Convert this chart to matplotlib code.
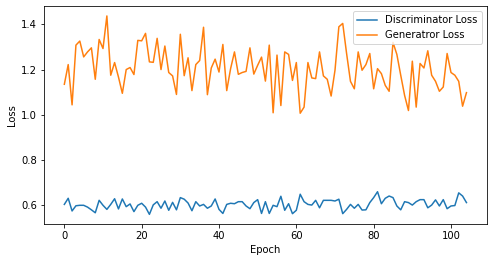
import matplotlib
matplotlib.use("Agg")
import matplotlib.pyplot as plt

# values, one per epoch (0..104)
d_loss = [
    0.604, 0.631, 0.575, 0.598, 0.600, 0.600, 0.592, 0.580, 0.567, 0.622,
    0.600, 0.582, 0.604, 0.629, 0.584, 0.628, 0.594, 0.606, 0.572, 0.600,
    0.609, 0.592, 0.560, 0.602, 0.616, 0.587, 0.619, 0.578, 0.613, 0.580,
    0.634, 0.627, 0.610, 0.576, 0.616, 0.597, 0.604, 0.587, 0.597, 0.628,
    0.582, 0.564, 0.604, 0.609, 0.607, 0.616, 0.616, 0.597, 0.585, 0.612,
    0.625, 0.564, 0.616, 0.564, 0.600, 0.594, 0.640, 0.578, 0.607, 0.563,
    0.578, 0.649, 0.616, 0.604, 0.601, 0.622, 0.589, 0.622, 0.622, 0.622,
    0.619, 0.627, 0.563, 0.582, 0.604, 0.587, 0.604, 0.579, 0.580, 0.612,
    0.634, 0.660, 0.607, 0.631, 0.641, 0.634, 0.597, 0.580, 0.616, 0.612,
    0.601, 0.616, 0.625, 0.625, 0.589, 0.601, 0.624, 0.597, 0.625, 0.585,
    0.597, 0.599, 0.655, 0.641, 0.612,
]
g_loss = [
    1.135, 1.222, 1.044, 1.308, 1.326, 1.256, 1.278, 1.296, 1.157, 1.333,
    1.293, 1.437, 1.175, 1.231, 1.167, 1.095, 1.200, 1.209, 1.178, 1.329,
    1.327, 1.360, 1.234, 1.232, 1.338, 1.200, 1.304, 1.187, 1.172, 1.090,
    1.356, 1.173, 1.252, 1.107, 1.222, 1.240, 1.387, 1.089, 1.207, 1.246,
    1.189, 1.311, 1.107, 1.204, 1.278, 1.179, 1.187, 1.192, 1.296, 1.180,
    1.219, 1.255, 1.149, 1.308, 1.009, 1.264, 1.041, 1.278, 1.267, 1.152,
    1.231, 1.007, 1.034, 1.231, 1.163, 1.160, 1.278, 1.172, 1.157, 1.083,
    1.197, 1.389, 1.404, 1.271, 1.148, 1.115, 1.278, 1.197, 1.222, 1.271,
    1.115, 1.204, 1.182, 1.130, 1.104, 1.320, 1.267, 1.175, 1.086, 1.019,
    1.237, 1.034, 1.227, 1.207, 1.283, 1.175, 1.148, 1.104, 1.123, 1.271,
    1.187, 1.175, 1.148, 1.038, 1.098,
]
epochs = list(range(len(d_loss)))

fig = plt.figure(figsize=(497 / 72, 262 / 72), dpi=72)
ax = fig.add_axes([0.089, 0.144, 0.890, 0.833])
ax.plot(epochs, d_loss, label='Discriminator Loss')
ax.plot(epochs, g_loss, label='Generatror Loss')
ax.set_xlabel('Epoch')
ax.set_ylabel('Loss')
ax.set_yticks([0.6, 0.8, 1.0, 1.2, 1.4])
ax.legend(loc='upper right')
fig.savefig('out.png', dpi=72)
